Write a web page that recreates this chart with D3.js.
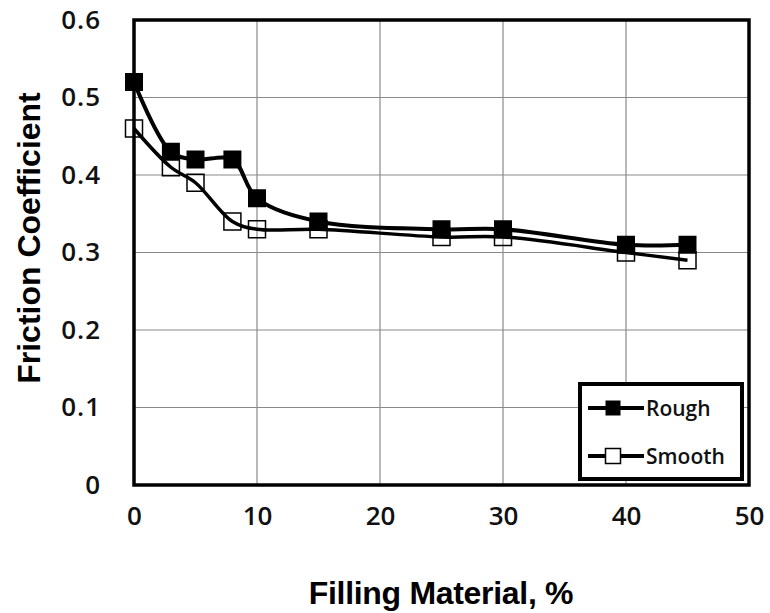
<!DOCTYPE html>
<html>
<head>
<meta charset="utf-8">
<script src="https://cdn.jsdelivr.net/npm/d3@7"></script>
<style>
  body { margin: 0; background: #fff; }
  svg { display: block; }
</style>
</head>
<body>
<svg id="chart" width="770" height="613"></svg>
<script>
// ---- data ----
const fillingPct   = [0, 3, 5, 8, 10, 15, 25, 30, 40, 45];
const roughValues  = [0.52, 0.43, 0.42, 0.42, 0.37, 0.34, 0.33, 0.33, 0.31, 0.31];
const smoothValues = [0.46, 0.41, 0.39, 0.34, 0.33, 0.33, 0.32, 0.32, 0.30, 0.29];
const xTicks = [0, 10, 20, 30, 40, 50];
const yTicks = [0, 0.1, 0.2, 0.3, 0.4, 0.5, 0.6];
const yTickLabels = ["0", "0.1", "0.2", "0.3", "0.4", "0.5", "0.6"];
const seriesNames = ["Rough", "Smooth"];
const xTitle = "Filling Material, %";
const yTitle = "Friction Coefficient";

// ---- layout ----
const svg = d3.select("#chart");
const L = 134, R = 749, T = 20, B = 485;
const x = d3.scaleLinear().domain([0, 50]).range([L, R]);
const y = d3.scaleLinear().domain([0, 0.6]).range([B, T]);
const tickFont = "'Open Sans', sans-serif";
const titleFont = "'Liberation Sans', Arial, sans-serif";

// gridlines
svg.append("g").selectAll("line.vx").data(xTicks.slice(1, -1)).join("line")
  .attr("x1", d => x(d)).attr("x2", d => x(d)).attr("y1", T).attr("y2", B)
  .attr("stroke", "#8a8a8a").attr("stroke-width", 1.2);
svg.append("g").selectAll("line.hy").data(yTicks.slice(1, -1)).join("line")
  .attr("y1", d => y(d)).attr("y2", d => y(d)).attr("x1", L).attr("x2", R)
  .attr("stroke", "#8a8a8a").attr("stroke-width", 1.2);

// axes (labels only, via d3 axis)
const xAxis = svg.append("g").attr("transform", `translate(0,${B})`)
  .call(d3.axisBottom(x).tickValues(xTicks).tickSize(0).tickPadding(22).tickFormat(d3.format("d")));
xAxis.select(".domain").remove();
xAxis.selectAll("text").attr("font-family", tickFont).attr("font-weight", 600)
  .attr("font-size", 26).attr("fill", "#111");

const yAxis = svg.append("g").attr("transform", `translate(${L},0)`)
  .call(d3.axisLeft(y).tickValues(yTicks).tickSize(0).tickPadding(33).tickFormat((d, i) => yTickLabels[i]));
yAxis.select(".domain").remove();
yAxis.selectAll("text").attr("font-family", tickFont).attr("font-weight", 600)
  .attr("font-size", 26).attr("letter-spacing", 1).attr("fill", "#111");

// plot border
svg.append("rect").attr("x", L).attr("y", T).attr("width", R - L).attr("height", B - T)
  .attr("fill", "none").attr("stroke", "#000").attr("stroke-width", 3.5);

// lines
const line = d3.line().x(d => x(d[0])).y(d => y(d[1])).curve(d3.curveCatmullRom.alpha(0.5));
const roughData = fillingPct.map((f, i) => [f, roughValues[i]]);
const smoothData = fillingPct.map((f, i) => [f, smoothValues[i]]);

svg.append("path").datum(roughData).attr("d", line)
  .attr("fill", "none").attr("stroke", "#000").attr("stroke-width", 4);
svg.append("path").datum(smoothData).attr("d", line)
  .attr("fill", "none").attr("stroke", "#000").attr("stroke-width", 3.5);

// markers
const ms = 18;
svg.append("g").selectAll("rect").data(roughData).join("rect")
  .attr("x", d => x(d[0]) - ms / 2).attr("y", d => y(d[1]) - ms / 2)
  .attr("width", ms).attr("height", ms).attr("fill", "#000");
const ms2 = 17;
svg.append("g").selectAll("rect").data(smoothData).join("rect")
  .attr("x", d => x(d[0]) - ms2 / 2).attr("y", d => y(d[1]) - ms2 / 2)
  .attr("width", ms2).attr("height", ms2).attr("fill", "none")
  .attr("stroke", "#000").attr("stroke-width", 1.5);

// legend
const lg = svg.append("g");
lg.append("rect").attr("x", 580).attr("y", 384).attr("width", 162).attr("height", 95)
  .attr("fill", "#fff").attr("stroke", "#000").attr("stroke-width", 4);
const legY = [408, 456];
seriesNames.forEach((name, i) => {
  const cy = legY[i];
  lg.append("line").attr("x1", 588).attr("x2", 644).attr("y1", cy).attr("y2", cy)
    .attr("stroke", "#000").attr("stroke-width", 4);
  const s = 15;
  lg.append("rect").attr("x", 613 - s / 2).attr("y", cy - s / 2).attr("width", s).attr("height", s)
    .attr("fill", i === 0 ? "#000" : "#fff").attr("stroke", "#000").attr("stroke-width", i === 0 ? 0 : 1.5);
  lg.append("text").attr("x", 646).attr("y", cy).attr("dy", "0.36em")
    .attr("font-family", tickFont).attr("font-weight", 600).attr("font-size", 21)
    .attr("fill", "#111").text(name);
});

// axis titles
svg.append("text").attr("x", 441).attr("y", 604).attr("text-anchor", "middle")
  .attr("font-family", titleFont).attr("font-weight", 700).attr("font-size", 32)
  .attr("letter-spacing", -0.3).attr("fill", "#000").text(xTitle);
svg.append("text").attr("transform", "translate(40,238) rotate(-90)").attr("text-anchor", "middle")
  .attr("font-family", titleFont).attr("font-weight", 700).attr("font-size", 32)
  .attr("letter-spacing", 0).attr("fill", "#000").text(yTitle);
</script>
</body>
</html>
